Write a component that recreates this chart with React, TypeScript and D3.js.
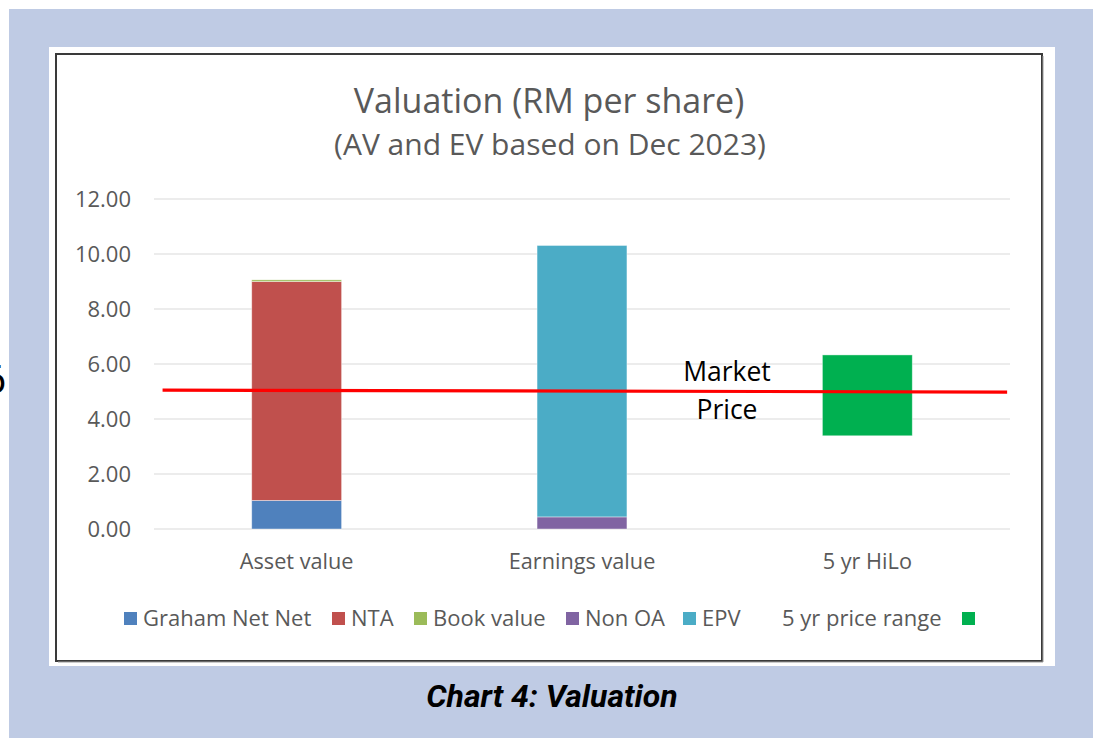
import React from "react";
import * as d3 from "d3";

const categories = ["Asset value", "Earnings value", "5 yr HiLo"];
const grahamNetNet = [1.04, 0, 0];
const nta = [7.96, 0, 0];
const bookValue = [0.06, 0, 0];
const nonOA = [0, 0.44, 0];
const epv = [0, 9.87, 0];
const priceRangeBase = [0, 0, 3.39];
const priceRange = [0, 0, 2.94];
const yTicks = [0, 2, 4, 6, 8, 10, 12];
const marketLineIdx = [-0.47, 2.49];
const marketLineVal = [5.05, 4.98];

const seriesNames = ["Graham Net Net", "NTA", "Book value", "Non OA", "EPV", "5 yr price range", ""];
const seriesColors = ["#4F81BD", "#C0504D", "#9BBB59", "#8064A2", "#4BACC6", "none", "#00B050"];
const seriesData = [grahamNetNet, nta, bookValue, nonOA, epv, priceRangeBase, priceRange];

const W = 1093, H = 738;
const plot = { left: 154, right: 1010, top: 199, bottom: 529 };
const FONT = "'Open Sans', sans-serif";

export default function App() {
  const x = d3.scaleBand().domain(categories).range([plot.left, plot.right]).paddingInner(0.685).paddingOuter(0.3425);
  const y = d3.scaleLinear().domain([0, 12]).range([plot.bottom, plot.top]);
  const idx = d3.scaleLinear().domain([0, 1]).range([x(categories[0])! + x.bandwidth() / 2, x(categories[1])! + x.bandwidth() / 2]);

  const table = categories.map((c, i) => {
    const o: any = { cat: c };
    seriesNames.forEach((_, s) => (o["s" + s] = seriesData[s][i]));
    return o;
  });
  const stack = d3.stack<any>().keys(seriesNames.map((_, s) => "s" + s))(table);

  const line = d3.line<number>().x((_, i) => idx(marketLineIdx[i])).y((v) => y(v));

  const legendItems = [
    { sw: 124, tx: 143, s: 0 },
    { sw: 332, tx: 351, s: 1 },
    { sw: 414, tx: 433, s: 2 },
    { sw: 566, tx: 585, s: 3 },
    { sw: 683, tx: 702, s: 4 },
    { sw: null, tx: 782, s: 5 },
    { sw: 962, tx: null, s: 6 },
  ];

  return (
    <svg width={W} height={H} style={{ position: "absolute", left: 0, top: 0 }} fontFamily={FONT}>
      <rect x={0} y={0} width={W} height={H} fill="#ffffff" />
      <rect x={9} y={9} width={W - 9} height={H - 9} fill="#BFCBE4" />
      <text x={6} y={393} fontSize={38} fontFamily="Roboto, sans-serif" textAnchor="end" fill="#000">6</text>
      <rect x={49} y={47} width={1006} height={619} fill="#ffffff" />
      <rect x={56} y={54} width={986} height={607} fill="#ffffff" stroke="#3a3a3a" strokeWidth={2} />
      <line x1={1043} y1={56} x2={1043} y2={662} stroke="#9a9a9a" strokeWidth={1} />
      <line x1={58} y1={662} x2={1043} y2={662} stroke="#9a9a9a" strokeWidth={1} />

      <text x={549} y={113} textAnchor="middle" fontSize={34} fill="#595959">Valuation (RM per share)</text>
      <text x={550} y={155} textAnchor="middle" fontSize={30} fill="#595959">(AV and EV based on Dec 2023)</text>

      {yTicks.map((t) => (
        <g key={t}>
          <line x1={plot.left} x2={plot.right} y1={y(t)} y2={y(t)} stroke="#D9D9D9" strokeWidth={1} />
          <text x={131} y={y(t)} dy="0.36em" textAnchor="end" fontSize={22} fill="#595959">{d3.format(".2f")(t)}</text>
        </g>
      ))}

      {stack.map((layer, s) =>
        seriesColors[s] === "none"
          ? null
          : layer.map((d, i) =>
              d[1] - d[0] > 0 ? (
                <rect
                  key={s + "-" + i}
                  x={x(categories[i])}
                  width={x.bandwidth()}
                  y={y(d[1])}
                  height={y(d[0]) - y(d[1])}
                  fill={seriesColors[s]}
                  stroke="#ffffff"
                  strokeOpacity={0.5}
                  strokeWidth={0.8}
                />
              ) : null
            )
      )}

      <path d={line(marketLineVal) || ""} fill="none" stroke="#FF0000" strokeWidth={3.2} />
      <text x={727} y={381} textAnchor="middle" fontSize={26.5} fill="#000">Market</text>
      <text x={727} y={419} textAnchor="middle" fontSize={26.5} fill="#000">Price</text>

      {categories.map((c) => (
        <text key={c} x={x(c)! + x.bandwidth() / 2} y={569} textAnchor="middle" fontSize={21.7} fill="#595959">{c}</text>
      ))}

      {legendItems.map((it) => (
        <g key={it.s}>
          {it.sw !== null && <rect x={it.sw} y={612} width={13} height={13} fill={seriesColors[it.s]} />}
          {it.tx !== null && (
            <text x={it.tx} y={626} fontSize={22} fill="#595959">{seriesNames[it.s]}</text>
          )}
        </g>
      ))}

      <text x={552} y={707} textAnchor="middle" fontSize={32} fontWeight="bold" fontStyle="italic" fontFamily="Roboto, sans-serif" fill="#000">Chart 4: Valuation</text>
    </svg>
  );
}
